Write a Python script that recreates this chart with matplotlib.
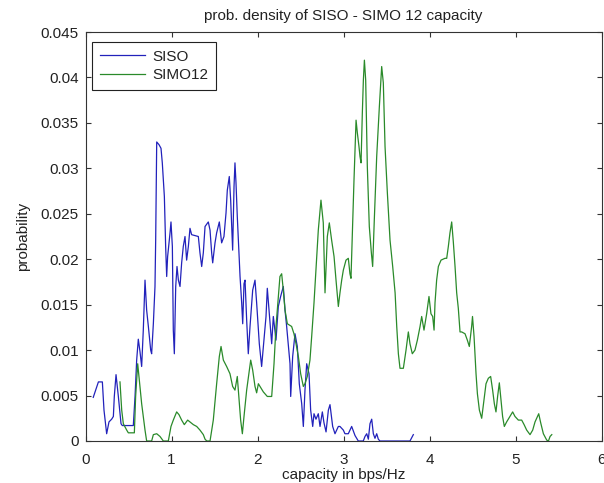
import matplotlib
matplotlib.use("Agg")
import matplotlib.pyplot as plt

# capacity (bps/Hz) and probability
siso_x = [0.09, 0.15, 0.196, 0.215, 0.246, 0.273, 0.304, 0.324, 0.335, 0.355,
          0.382, 0.413, 0.428, 0.556, 0.576, 0.595, 0.614, 0.634, 0.653, 0.672,
          0.692, 0.711, 0.731, 0.758, 0.769, 0.789, 0.808, 0.816, 0.828, 0.855,
          0.878, 0.893, 0.917, 0.932, 0.944, 0.955, 0.983, 0.994, 1.01, 1.021,
          1.033, 1.049, 1.064, 1.08, 1.099, 1.118, 1.137, 1.157, 1.176, 1.196,
          1.215, 1.234, 1.312, 1.331, 1.351, 1.37, 1.39, 1.428, 1.448, 1.467,
          1.479, 1.506, 1.525, 1.556, 1.583, 1.61, 1.634, 1.649, 1.672, 1.688,
          1.711, 1.727, 1.738, 1.75, 1.765, 1.797, 1.816, 1.828, 1.843, 1.855,
          1.874, 1.893, 1.913, 1.944, 1.971, 1.99, 2.021, 2.048, 2.068, 2.099,
          2.114, 2.137, 2.165, 2.184, 2.215, 2.242, 2.269, 2.3, 2.32, 2.339,
          2.378, 2.386, 2.409, 2.436, 2.463, 2.486, 2.514, 2.533, 2.552, 2.572,
          2.599, 2.618, 2.642, 2.657, 2.68, 2.707, 2.727, 2.754, 2.773, 2.797,
          2.824, 2.843, 2.874, 2.901, 2.94, 2.959, 2.998, 3.017, 3.056, 3.095,
          3.134, 3.172, 3.23, 3.25, 3.27, 3.289, 3.308, 3.328, 3.347, 3.366,
          3.386, 3.405, 3.424, 3.773, 3.812]
siso_p = [0.0048, 0.0065, 0.0065, 0.0034, 0.0008, 0.0021, 0.0024, 0.0027, 0.0049, 0.0073,
          0.0049, 0.0019, 0.0017, 0.0017, 0.0049, 0.0089, 0.0112, 0.0098, 0.0082, 0.0122,
          0.0177, 0.0144, 0.0126, 0.0100, 0.0096, 0.0129, 0.0170, 0.0221, 0.0329, 0.0326,
          0.0322, 0.0306, 0.0269, 0.0214, 0.0181, 0.0203, 0.0229, 0.0241, 0.0214, 0.0122,
          0.0096, 0.0170, 0.0192, 0.0177, 0.0170, 0.0196, 0.0214, 0.0225, 0.0199, 0.0214,
          0.0234, 0.0227, 0.0225, 0.0207, 0.0192, 0.0207, 0.0236, 0.0241, 0.0232, 0.0207,
          0.0196, 0.0218, 0.0229, 0.0241, 0.0218, 0.0225, 0.0251, 0.0276, 0.0291, 0.0265,
          0.0210, 0.0280, 0.0306, 0.0284, 0.0247, 0.0181, 0.0152, 0.0129, 0.0173, 0.0177,
          0.0133, 0.0096, 0.0126, 0.0166, 0.0177, 0.0152, 0.0107, 0.0082, 0.0104, 0.0137,
          0.0168, 0.0140, 0.0107, 0.0137, 0.0111, 0.0148, 0.0159, 0.0170, 0.0144, 0.0126,
          0.0085, 0.0049, 0.0093, 0.0118, 0.0104, 0.0063, 0.0041, 0.0016, 0.0056, 0.0085,
          0.0074, 0.0034, 0.0016, 0.0030, 0.0024, 0.0030, 0.0016, 0.0032, 0.0020, 0.0010,
          0.0034, 0.0040, 0.0016, 0.0008, 0.0016, 0.0016, 0.0012, 0.0008, 0.0008, 0.0016,
          0.0006, 0.0, 0.0, 0.0005, 0.0008, 0.0002, 0.0019, 0.0024, 0.0008, 0.0003,
          0.0008, 0.0002, 0.0, 0.0, 0.0007]

simo_x = [0.401, 0.421, 0.44, 0.479, 0.498, 0.568, 0.583, 0.607, 0.622, 0.653,
          0.692, 0.711, 0.769, 0.789, 0.828, 0.866, 0.905, 0.963, 0.994, 1.021,
          1.06, 1.087, 1.118, 1.149, 1.188, 1.227, 1.254, 1.293, 1.331, 1.37,
          1.39, 1.41, 1.448, 1.486, 1.525, 1.556, 1.576, 1.603, 1.641, 1.68,
          1.711, 1.738, 1.765, 1.789, 1.804, 1.824, 1.843, 1.874, 1.905, 1.921,
          1.944, 1.971, 1.99, 2.01, 2.029, 2.068, 2.114, 2.165, 2.192, 2.215,
          2.242, 2.261, 2.281, 2.3, 2.32, 2.347, 2.397, 2.424, 2.448, 2.475,
          2.502, 2.533, 2.552, 2.579, 2.61, 2.63, 2.657, 2.68, 2.707, 2.738,
          2.765, 2.785, 2.812, 2.835, 2.862, 2.89, 2.913, 2.94, 2.959, 2.979,
          2.998, 3.029, 3.056, 3.075, 3.087, 3.107, 3.122, 3.146, 3.161, 3.18,
          3.192, 3.204, 3.219, 3.231, 3.243, 3.258, 3.277, 3.3, 3.324, 3.339,
          3.358, 3.386, 3.417, 3.444, 3.463, 3.483, 3.51, 3.541, 3.572, 3.6,
          3.619, 3.638, 3.657, 3.696, 3.727, 3.754, 3.773, 3.8, 3.831, 3.859,
          3.89, 3.909, 3.936, 3.967, 3.994, 4.017, 4.037, 4.053, 4.064, 4.083,
          4.103, 4.134, 4.18, 4.2, 4.219, 4.238, 4.258, 4.277, 4.297, 4.316,
          4.335, 4.355, 4.374, 4.413, 4.44, 4.463, 4.49, 4.5, 4.518, 4.541,
          4.557, 4.58, 4.607, 4.634, 4.657, 4.684, 4.711, 4.734, 4.754, 4.773,
          4.792, 4.812, 4.827, 4.85, 4.87, 4.897, 4.936, 4.967, 4.994, 5.033,
          5.072, 5.1, 5.13, 5.169, 5.2, 5.227, 5.255, 5.27, 5.293, 5.324,
          5.363, 5.383, 5.402, 5.422]
simo_p = [0.0065, 0.0034, 0.0019, 0.0012, 0.0009, 0.0009, 0.0049, 0.0085, 0.0071, 0.0041,
          0.0012, 0.0, 0.0, 0.0007, 0.0008, 0.0005, 0.0, 0.0, 0.0016, 0.0023,
          0.0032, 0.0029, 0.0023, 0.0018, 0.0023, 0.0020, 0.0018, 0.0016, 0.0012, 0.0007,
          0.0002, 0.0, 0.0, 0.0023, 0.0063, 0.0093, 0.0104, 0.0089, 0.0082, 0.0074,
          0.0060, 0.0056, 0.0071, 0.0041, 0.0023, 0.0008, 0.0027, 0.0056, 0.0078, 0.0089,
          0.0078, 0.0060, 0.0053, 0.0063, 0.0060, 0.0054, 0.0049, 0.0049, 0.0085, 0.0126,
          0.0159, 0.0181, 0.0184, 0.0166, 0.0144, 0.0129, 0.0126, 0.0118, 0.0107, 0.0093,
          0.0074, 0.0060, 0.0063, 0.0071, 0.0089, 0.0115, 0.0152, 0.0188, 0.0232, 0.0265,
          0.0240, 0.0163, 0.0225, 0.0240, 0.0221, 0.0203, 0.0177, 0.0148, 0.0163, 0.0177,
          0.0188, 0.0199, 0.0201, 0.0184, 0.0179, 0.0243, 0.0287, 0.0353, 0.0339, 0.0324,
          0.0313, 0.0306, 0.0361, 0.0397, 0.0419, 0.0397, 0.0302, 0.0236, 0.0207, 0.0192,
          0.0243, 0.0313, 0.0368, 0.0412, 0.0394, 0.0324, 0.0273, 0.0221, 0.0192, 0.0163,
          0.0126, 0.0096, 0.0080, 0.0080, 0.0100, 0.0120, 0.0107, 0.0096, 0.0100, 0.0111,
          0.0126, 0.0137, 0.0122, 0.0140, 0.0159, 0.0140, 0.0137, 0.0122, 0.0152, 0.0177,
          0.0192, 0.0199, 0.0201, 0.0201, 0.0214, 0.0229, 0.0241, 0.0219, 0.0192, 0.0163,
          0.0146, 0.0120, 0.0120, 0.0118, 0.0111, 0.0104, 0.0126, 0.0137, 0.0115, 0.0074,
          0.0052, 0.0034, 0.0025, 0.0045, 0.0063, 0.0069, 0.0071, 0.0056, 0.0041, 0.0032,
          0.0049, 0.0064, 0.0049, 0.0027, 0.0016, 0.0021, 0.0027, 0.0032, 0.0027, 0.0023,
          0.0023, 0.0018, 0.0012, 0.0007, 0.0012, 0.0021, 0.0027, 0.0030, 0.0020, 0.0008,
          0.0001, 0.0, 0.0005, 0.0007]

x_ticks = [0, 1, 2, 3, 4, 5, 6]
y_ticks = [0, 0.005, 0.01, 0.015, 0.02, 0.025, 0.03, 0.035, 0.04, 0.045]
y_labels = ["0", "0.005", "0.01", "0.015", "0.02", "0.025", "0.03", "0.035", "0.04", "0.045"]

TXT = "#222222"
plt.rcParams.update({
    "font.family": ["Liberation Sans", "DejaVu Sans"],
    "font.size": 11,
    "text.color": TXT,
    "axes.labelcolor": TXT,
    "xtick.color": "#333333",
    "ytick.color": "#333333",
    "xtick.labelcolor": TXT,
    "ytick.labelcolor": TXT,
})

fig = plt.figure(figsize=(6.04, 4.83), dpi=100, facecolor="white")
ax = fig.add_axes([85.5 / 604, 42 / 483, 516 / 604, 409 / 483])

ax.plot(siso_x, siso_p, color="#2222bb", lw=0.9, label="SISO")
ax.plot(simo_x, simo_p, color="#2a8a2a", lw=0.9, label="SIMO12")

ax.set_xlim(0, 6)
ax.set_ylim(0, 0.045)
ax.set_xticks(x_ticks)
ax.set_yticks(y_ticks)
ax.set_yticklabels(y_labels)
ax.tick_params(direction="in", length=3.6, width=0.8, top=True, right=True)
ax.tick_params(axis="x", pad=9)
ax.tick_params(axis="y", pad=5)
for sp in ax.spines.values():
    sp.set_color("#333333")
    sp.set_linewidth(0.8)

ax.set_title("prob. density of SISO - SIMO 12 capacity", pad=8.5, fontsize=11)
ax.set_xlabel("capacity in bps/Hz", va="baseline")
ax.xaxis.set_label_coords(0.5, -0.093)
ax.set_ylabel("probability", va="center")
ax.yaxis.set_label_coords(-0.122, 0.5)

leg = ax.legend(loc="upper left", bbox_to_anchor=(0.0126, 0.9756), borderaxespad=0,
                fancybox=False, edgecolor="#222222", framealpha=1,
                borderpad=0.5, labelspacing=0.3, handlelength=3.0, handletextpad=0.45)
leg.get_frame().set_linewidth(0.8)

fig.savefig("out.png", dpi=100, facecolor="white")
